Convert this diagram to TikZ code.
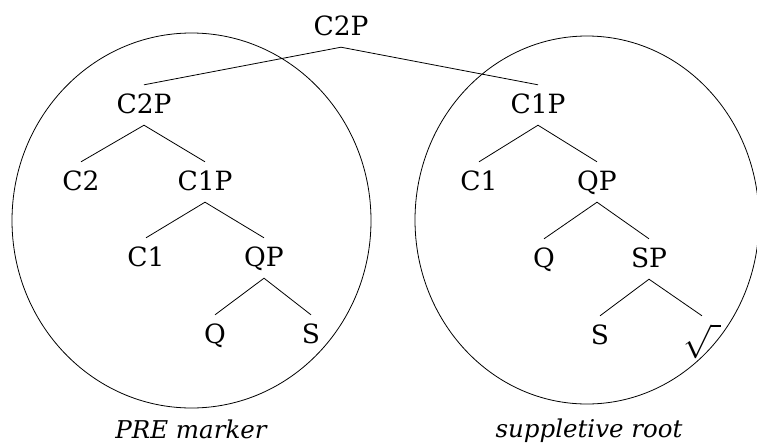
\documentclass[tikz,border=0pt]{standalone}
\usepackage{fontspec}
\setmainfont{DejaVu Serif}
\newcommand{\treefont}{\fontsize{26.5}{30}\selectfont}
\newcommand{\labfont}{\fontsize{24.5}{28}\selectfont\itshape}
\tikzset{
  tn/.style={font=\treefont, inner sep=0pt, text height=28pt, text depth=12pt, anchor=base},
  lab/.style={font=\labfont, inner sep=0pt, anchor=base},
  br/.style={line width=0.8pt},
  encl/.style={line width=0.8pt}
}
\begin{document}
\begin{tikzpicture}[x=1pt,y=-1pt]
\useasboundingbox (0,0) rectangle (757,445);
% enclosures
\draw[encl] (191.5,220.5) ellipse [x radius=179.5, y radius=187.5];
\draw[encl] (587,220) ellipse [x radius=172, y radius=184];
% top
\node[tn] (top) at (341,35) {C2P};
% left tree
\node[tn] (lc2p) at (144,113) {C2P};
\node[tn] (lc2) at (81,190) {C2};
\node[tn] (lc1p) at (205,190) {C1P};
\node[tn] (lc1) at (146,266) {C1};
\node[tn] (lqp) at (264,266) {QP};
\node[tn] (lq) at (215,343) {Q};
\node[tn] (ls) at (311,343) {S};
% right tree
\node[tn] (rc1p) at (538,113) {C1P};
\node[tn] (rc1) at (479,190) {C1};
\node[tn] (rqp) at (597,190) {QP};
\node[tn] (rq) at (544,267) {Q};
\node[tn] (rsp) at (649,267) {SP};
\node[tn] (rs) at (600,344) {S};
\node[tn] (rroot) at (702,344) {\raisebox{1pt}{\scalebox{1.35}{$\sqrt{\;}$}}};
% labels
\node[lab] (lpre) at (191,438) {PRE marker};
\node[lab] (lsup) at (589,437) {suppletive root};
% branches
\draw[br] (lc2p.north) -- (top.south) -- (rc1p.north);
\draw[br] (lc2.north) -- (lc2p.south) -- (lc1p.north);
\draw[br] (lc1.north) -- (lc1p.south) -- (lqp.north);
\draw[br] (lq.north) -- (lqp.south) -- (ls.north);
\draw[br] (rc1.north) -- (rc1p.south) -- (rqp.north);
\draw[br] (rq.north) -- (rqp.south) -- (rsp.north);
\draw[br] (rs.north) -- (rsp.south) -- (rroot.north);
\end{tikzpicture}
\end{document}
